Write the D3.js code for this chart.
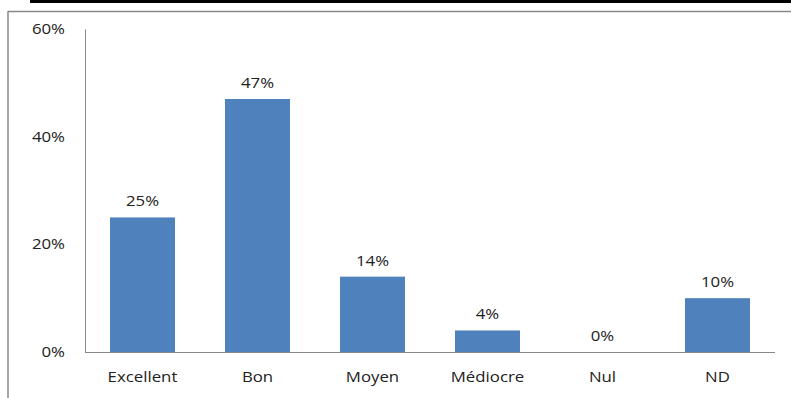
<!DOCTYPE html>
<html>
<head>
<meta charset="utf-8">
<script src="https://cdn.jsdelivr.net/npm/d3@7"></script>
<style>
  html, body { margin: 0; padding: 0; background: #fff; }
  svg { display: block; }
  text { font-family: "Open Sans", "Noto Sans", sans-serif; fill: #222; }
</style>
</head>
<body>
<svg id="chart" width="791" height="398"></svg>
<script>
// Répartition des appréciations
const categories = ["Excellent", "Bon", "Moyen", "Médiocre", "Nul", "ND"];
const values = [0.25, 0.47, 0.14, 0.04, 0, 0.10];
const tickValues = [0, 0.2, 0.4, 0.6];

const svg = d3.select("#chart");
const W = 791, H = 398;
const plot = { left: 85, right: 775, top: 29, bottom: 352 };
const STRETCH = 1.2; // wide lettering
const pct = d3.format(".0%");

// Frame decorations
svg.append("line")
  .attr("x1", 30).attr("x2", W).attr("y1", 1.5).attr("y2", 1.5)
  .attr("stroke", "#000").attr("stroke-width", 3);
svg.append("line")
  .attr("x1", 8).attr("x2", W).attr("y1", 11.5).attr("y2", 11.5)
  .attr("stroke", "#888").attr("stroke-width", 1.5);
svg.append("line")
  .attr("x1", 8).attr("x2", 8).attr("y1", 11).attr("y2", H)
  .attr("stroke", "#888").attr("stroke-width", 1.5);

const x = d3.scaleBand()
  .domain(categories)
  .range([plot.left, plot.right])
  .paddingInner(50 / 115)
  .paddingOuter(25 / 115);

const y = d3.scaleLinear()
  .domain([0, 0.6])
  .range([plot.bottom, plot.top]);

// Y axis
const yAxis = d3.axisLeft(y)
  .tickValues(tickValues)
  .tickFormat(pct)
  .tickSize(0)
  .tickPadding(20);
const gy = svg.append("g")
  .attr("transform", `translate(${plot.left},0)`)
  .call(yAxis);
gy.select(".domain").attr("stroke", "#888");
gy.selectAll(".tick text")
  .style("font-size", "14px").attr("fill", "#222")
  .attr("x", 0)
  .attr("transform", `translate(-20,0) scale(${STRETCH},1)`);

// X axis
const xAxis = d3.axisBottom(x).tickSize(0).tickPadding(20);
const gx = svg.append("g")
  .attr("transform", `translate(0,${plot.bottom})`)
  .call(xAxis);
gx.select(".domain").attr("stroke", "#888").attr("d", `M${plot.left},0.5H${plot.right}`);
gx.selectAll(".tick text")
  .style("font-size", "14px").attr("fill", "#222")
  .attr("transform", `scale(${STRETCH},1)`);

// Bars
svg.append("g").selectAll("rect")
  .data(values)
  .join("rect")
  .attr("x", (d, i) => x(categories[i]))
  .attr("width", x.bandwidth())
  .attr("y", d => y(d))
  .attr("height", d => y(0) - y(d))
  .attr("fill", "#4F81BD");

// Value labels
svg.append("g").selectAll("text")
  .data(values)
  .join("text")
  .attr("transform", (d, i) =>
    `translate(${x(categories[i]) + x.bandwidth() / 2},${y(d) - 11}) scale(${STRETCH},1)`)
  .attr("text-anchor", "middle")
  .style("font-size", "14px")
  .text(d => pct(d));
</script>
</body>
</html>
